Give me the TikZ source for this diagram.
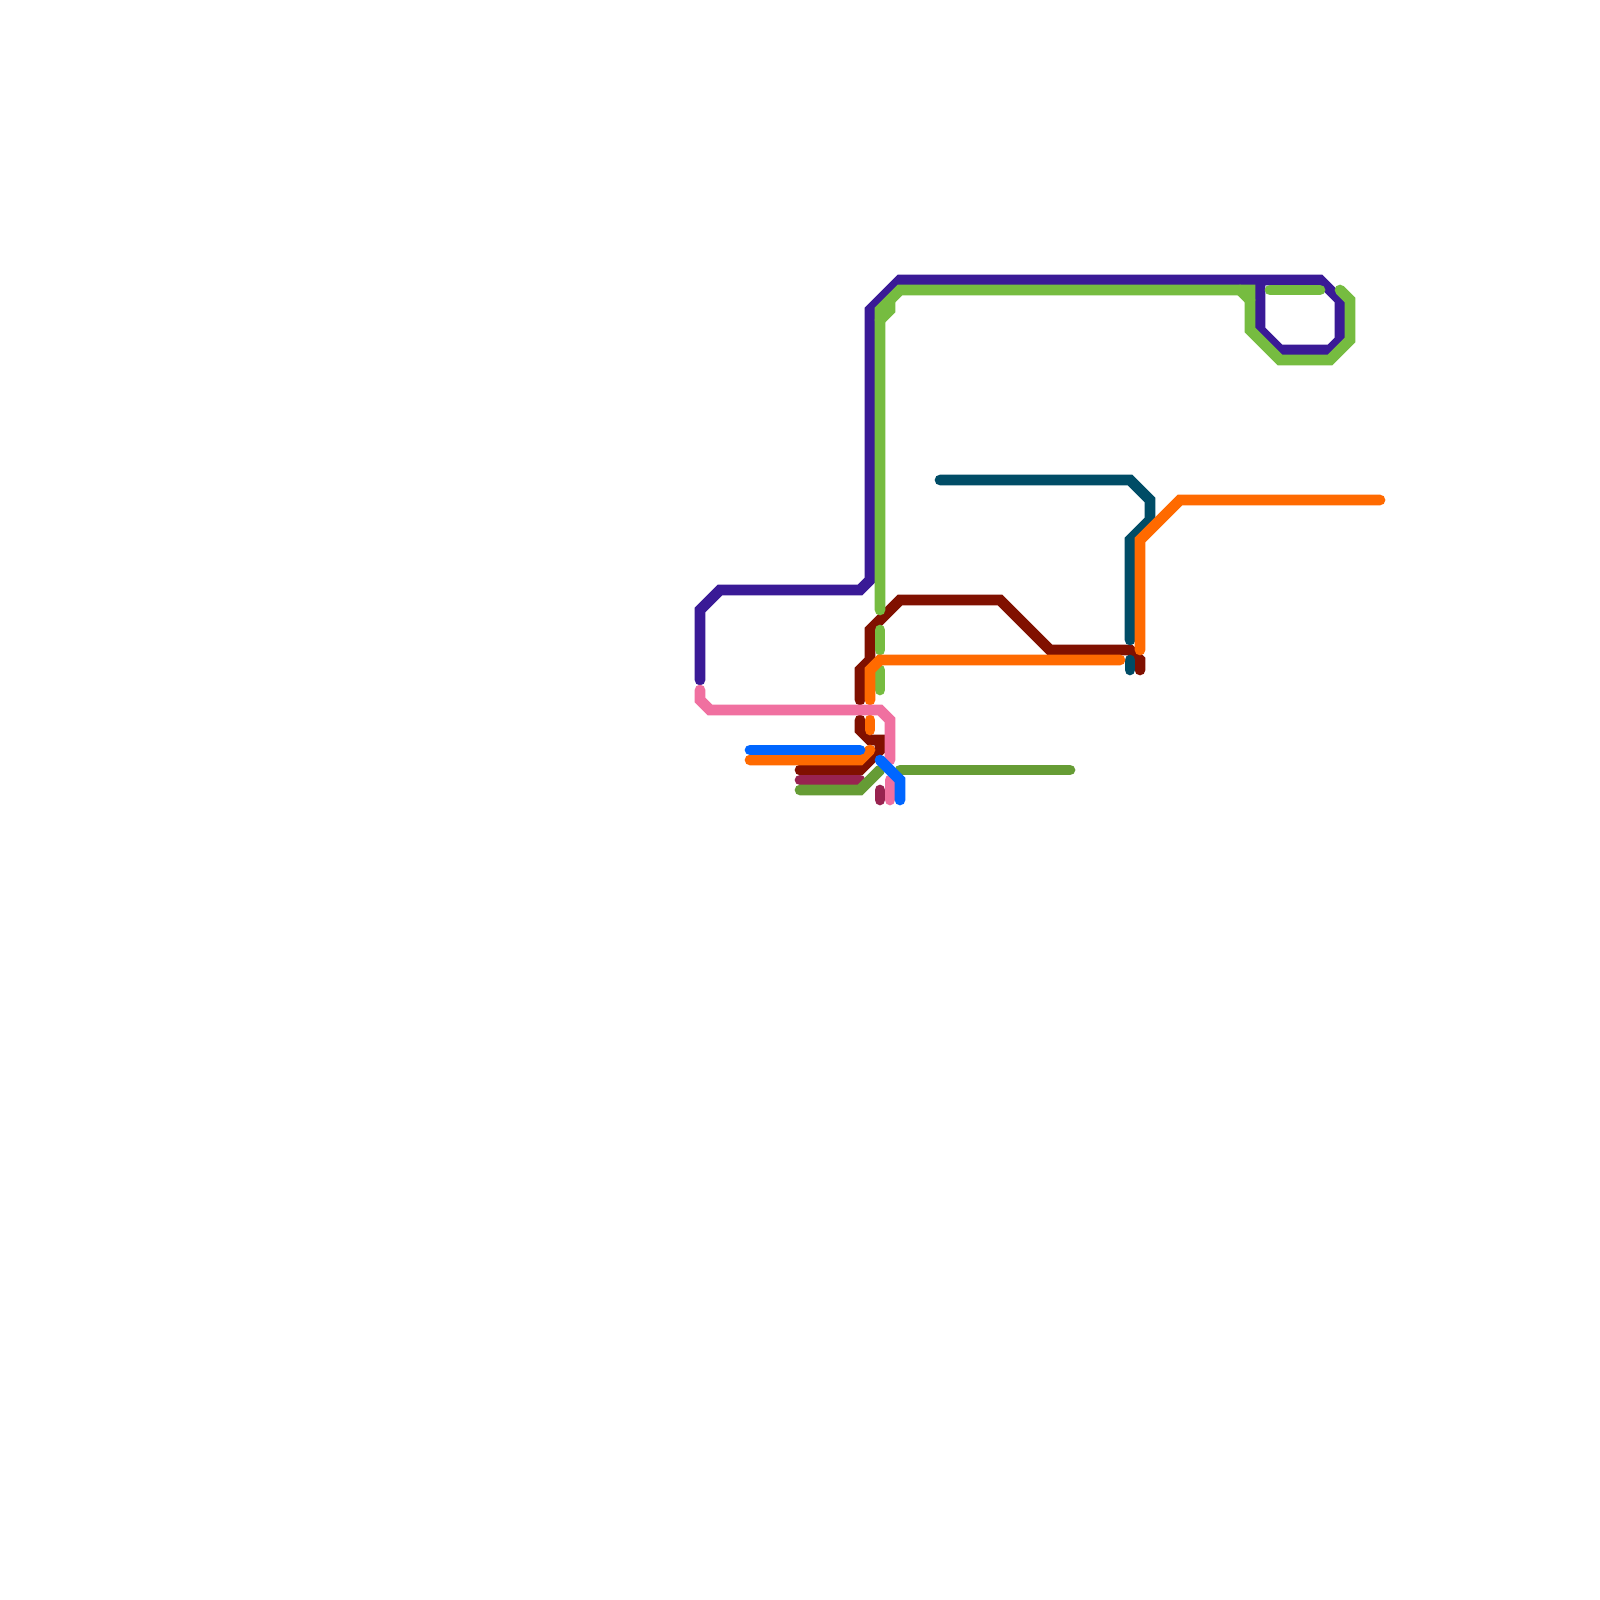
\documentclass[tikz,border=0pt]{standalone}
\definecolor{cPurple}{HTML}{3A1A96}
\definecolor{cGreen}{HTML}{76BC40}
\definecolor{cRed}{HTML}{801000}
\definecolor{cOrange}{HTML}{FF6A00}
\definecolor{cPink}{HTML}{F070A0}
\definecolor{cBlue}{HTML}{0066FF}
\definecolor{cTeal}{HTML}{004C66}
\definecolor{cMaroon}{HTML}{982350}
\definecolor{cOlive}{HTML}{669C35}
\tikzset{route/.style={line width=0.107cm,line cap=round,line join=miter,miter limit=4}}
\begin{document}
\begin{tikzpicture}[x=0.01cm,y=-0.01cm]
\fill[white] (0,0) rectangle (1600,1600);
\useasboundingbox (0,0) rectangle (1600,1600);
% dark red
\draw[route,cRed] (860,700) -- (860,670) -- (870,660) -- (870,630) -- (900,600) -- (1000,600) -- (1050,650) -- (1130,650) -- (1140,660) -- (1140,670);
\draw[route,cRed] (860,720) -- (860,730) -- (870,740) -- (880,740) -- (880,750) -- (860,770) -- (800,770);
% maroon
\draw[route,cMaroon] (800,780) -- (860,780);
\draw[route,cMaroon] (880,790) -- (880,800);
% purple
\draw[route,cPurple] (700,680) -- (700,610) -- (720,590) -- (860,590) -- (870,580) -- (870,310) -- (900,280) -- (1320,280) -- (1340,300) -- (1340,340) -- (1330,350) -- (1280,350) -- (1260,330) -- (1260,280);
% green
\draw[route,cGreen] (880,610) -- (880,310) -- (900,290) -- (1250,290) -- (1250,330) -- (1280,360) -- (1330,360) -- (1350,340) -- (1350,300) -- (1340,290);
\draw[route,cGreen] (880,320) -- (890,310) -- (890,300);
\draw[route,cGreen] (1240,290) -- (1250,300);
\draw[route,cGreen] (1270,290) -- (1320,290);
\draw[route,cGreen] (880,630) -- (880,650);
\draw[route,cGreen] (880,670) -- (880,690);
% olive
\draw[route,cOlive] (800,790) -- (860,790) -- (880,770);
\draw[route,cOlive] (900,770) -- (1070,770);
% teal
\draw[route,cTeal] (940,480) -- (1130,480) -- (1150,500) -- (1150,520) -- (1130,540) -- (1130,640);
\draw[route,cTeal] (1130,660) -- (1130,670);
% orange
\draw[route,cOrange] (1140,650) -- (1140,540) -- (1180,500) -- (1380,500);
\draw[route,cOrange] (870,700) -- (870,670) -- (880,660) -- (1120,660);
\draw[route,cOrange] (870,720) -- (870,730);
\draw[route,cOrange] (750,760) -- (860,760) -- (870,750);
% pink
\draw[route,cPink] (700,690) -- (700,700) -- (710,710) -- (880,710) -- (890,720) -- (890,760);
\draw[route,cPink] (890,780) -- (890,800);
% blue
\draw[route,cBlue] (750,750) -- (860,750);
\draw[route,cBlue] (880,760) -- (900,780) -- (900,800);
\end{tikzpicture}
\end{document}
